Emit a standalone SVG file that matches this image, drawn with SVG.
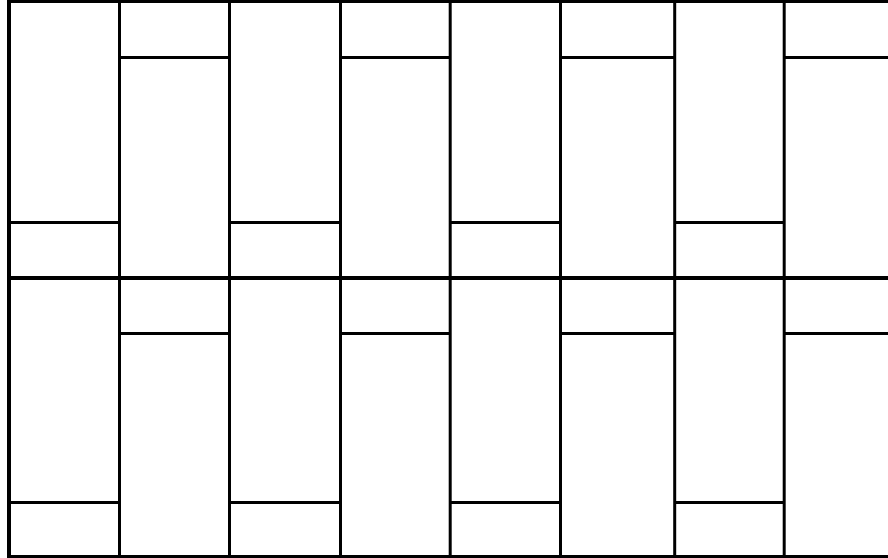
<svg xmlns="http://www.w3.org/2000/svg" width="888" height="558" viewBox="0 0 888 558">
<style>
.l{stroke:#000;stroke-width:3;fill:none;stroke-linecap:butt}
.b{stroke:#000;stroke-width:4;fill:none}
</style>
<rect x="0" y="0" width="888" height="558" fill="#fff"/>
<g id="frame">
<line class="l" x1="7" y1="1.5" x2="888" y2="1.5"/>
<line class="b" x1="7" y1="278" x2="888" y2="278"/>
<line class="l" x1="7" y1="556.5" x2="888" y2="556.5"/>
<line class="b" x1="9" y1="0" x2="9" y2="558"/>
</g>
<g id="verticals">
<line class="l" x1="119.5" y1="0" x2="119.5" y2="558"/>
<line class="l" x1="229.5" y1="0" x2="229.5" y2="558"/>
<line class="l" x1="340.5" y1="0" x2="340.5" y2="558"/>
<line class="l" x1="450.2" y1="0" x2="450.2" y2="558"/>
<line class="l" x1="560.5" y1="0" x2="560.5" y2="558"/>
<line class="l" x1="674.7" y1="0" x2="674.7" y2="558"/>
<line class="l" x1="784.2" y1="0" x2="784.2" y2="558"/>
</g>
<g id="odd-columns">
<line class="l" x1="9" y1="222.5" x2="119.5" y2="222.5"/>
<line class="l" x1="229.5" y1="222.5" x2="340.5" y2="222.5"/>
<line class="l" x1="450.2" y1="222.5" x2="560.5" y2="222.5"/>
<line class="l" x1="674.7" y1="222.5" x2="784.2" y2="222.5"/>
<line class="l" x1="9" y1="502.5" x2="119.5" y2="502.5"/>
<line class="l" x1="229.5" y1="502.5" x2="340.5" y2="502.5"/>
<line class="l" x1="450.2" y1="502.5" x2="560.5" y2="502.5"/>
<line class="l" x1="674.7" y1="502.5" x2="784.2" y2="502.5"/>
</g>
<g id="even-columns">
<line class="l" x1="119.5" y1="57.5" x2="229.5" y2="57.5"/>
<line class="l" x1="340.5" y1="57.5" x2="450.2" y2="57.5"/>
<line class="l" x1="560.5" y1="57.5" x2="674.7" y2="57.5"/>
<line class="l" x1="784.2" y1="57.5" x2="888" y2="57.5"/>
<line class="l" x1="119.5" y1="333.5" x2="229.5" y2="333.5"/>
<line class="l" x1="340.5" y1="333.5" x2="450.2" y2="333.5"/>
<line class="l" x1="560.5" y1="333.5" x2="674.7" y2="333.5"/>
<line class="l" x1="784.2" y1="333.5" x2="888" y2="333.5"/>
</g>
</svg>
